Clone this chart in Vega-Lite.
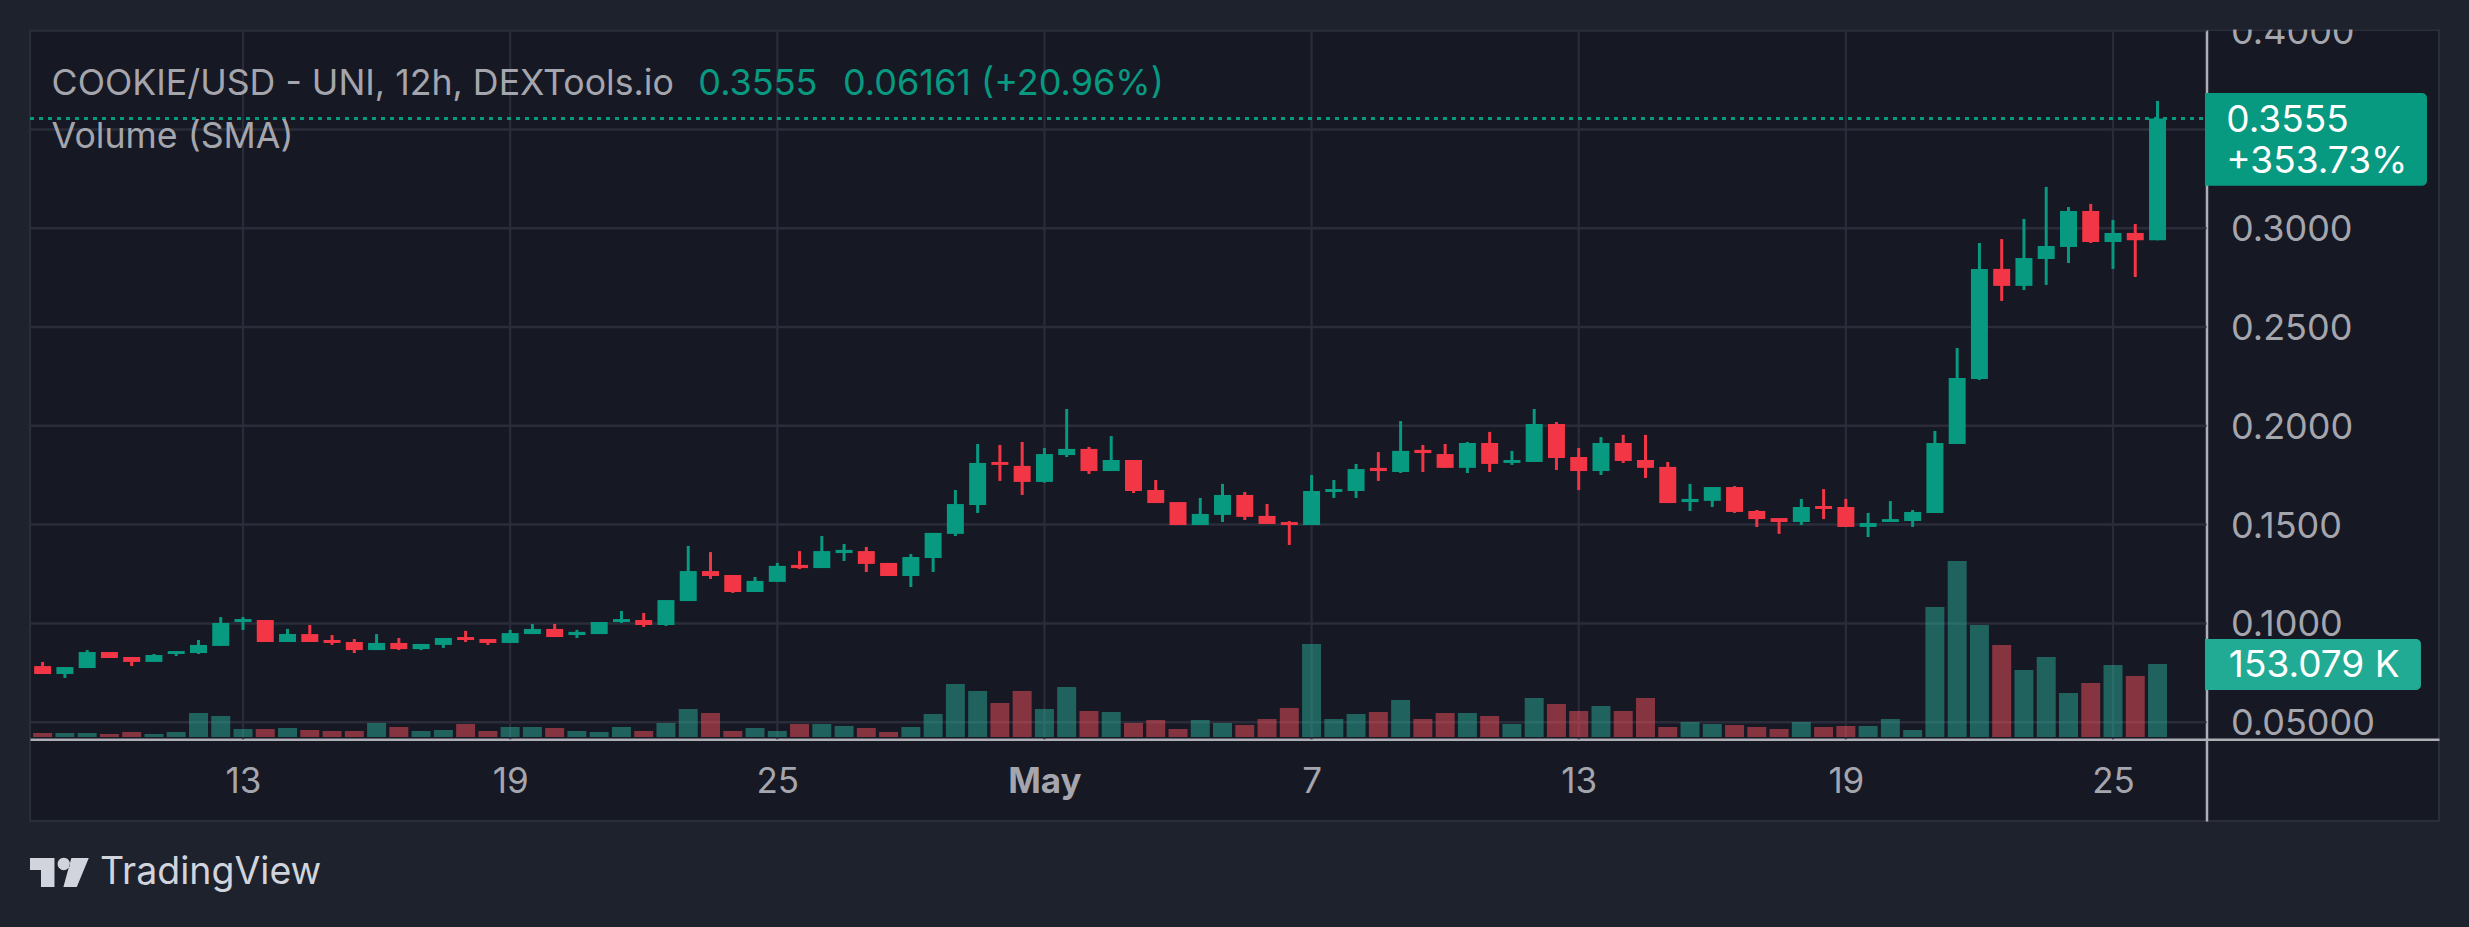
{"$schema":"https://vega.github.io/schema/vega-lite/v6.json","width":2409,"height":791,"autosize":{"type":"none"},"padding":{"left":30,"top":30,"right":30,"bottom":106},"background":"#1e222d","config":{"view":{"fill":"#161824","stroke":"#2a2d3a","strokeWidth":2},"font":"Inter"},"datasets":{"candles":[
{"t":"2024-04-08T12:00:00Z","o":0.0784,"h":0.0805,"l":0.0744,"c":0.0744,"v":8400,"d":"down"},
{"t":"2024-04-09T00:00:00Z","o":0.0744,"h":0.0779,"l":0.0724,"c":0.0779,"v":8400,"d":"up"},
{"t":"2024-04-09T12:00:00Z","o":0.0774,"h":0.0865,"l":0.0774,"c":0.0855,"v":8400,"d":"up"},
{"t":"2024-04-10T00:00:00Z","o":0.0855,"h":0.0855,"l":0.0825,"c":0.0825,"v":6300,"d":"down"},
{"t":"2024-04-10T12:00:00Z","o":0.083,"h":0.083,"l":0.0784,"c":0.0805,"v":10500,"d":"down"},
{"t":"2024-04-11T00:00:00Z","o":0.0805,"h":0.0845,"l":0.0805,"c":0.084,"v":6300,"d":"up"},
{"t":"2024-04-11T12:00:00Z","o":0.0845,"h":0.086,"l":0.0835,"c":0.086,"v":10500,"d":"up"},
{"t":"2024-04-12T00:00:00Z","o":0.085,"h":0.0916,"l":0.0845,"c":0.0891,"v":50300,"d":"up"},
{"t":"2024-04-12T12:00:00Z","o":0.0886,"h":0.1032,"l":0.0886,"c":0.1002,"v":44000,"d":"up"},
{"t":"2024-04-13T00:00:00Z","o":0.1007,"h":0.1032,"l":0.0967,"c":0.1022,"v":16800,"d":"up"},
{"t":"2024-04-13T12:00:00Z","o":0.1017,"h":0.1017,"l":0.0906,"c":0.0906,"v":16800,"d":"down"},
{"t":"2024-04-14T00:00:00Z","o":0.0906,"h":0.0972,"l":0.0906,"c":0.0946,"v":18900,"d":"up"},
{"t":"2024-04-14T12:00:00Z","o":0.0946,"h":0.0992,"l":0.0906,"c":0.0906,"v":14700,"d":"down"},
{"t":"2024-04-15T00:00:00Z","o":0.0916,"h":0.0941,"l":0.0891,"c":0.0901,"v":12600,"d":"down"},
{"t":"2024-04-15T12:00:00Z","o":0.0906,"h":0.0921,"l":0.085,"c":0.0865,"v":12600,"d":"down"},
{"t":"2024-04-16T00:00:00Z","o":0.0865,"h":0.0946,"l":0.0865,"c":0.0901,"v":29400,"d":"up"},
{"t":"2024-04-16T12:00:00Z","o":0.0901,"h":0.0926,"l":0.0865,"c":0.087,"v":21000,"d":"down"},
{"t":"2024-04-17T00:00:00Z","o":0.087,"h":0.0896,"l":0.0865,"c":0.0896,"v":12600,"d":"up"},
{"t":"2024-04-17T12:00:00Z","o":0.0891,"h":0.0926,"l":0.0876,"c":0.0926,"v":14700,"d":"up"},
{"t":"2024-04-18T00:00:00Z","o":0.0931,"h":0.0962,"l":0.0906,"c":0.0916,"v":27300,"d":"down"},
{"t":"2024-04-18T12:00:00Z","o":0.0921,"h":0.0921,"l":0.0891,"c":0.0901,"v":12600,"d":"down"},
{"t":"2024-04-19T00:00:00Z","o":0.0901,"h":0.0967,"l":0.0901,"c":0.0951,"v":21000,"d":"up"},
{"t":"2024-04-19T12:00:00Z","o":0.0946,"h":0.0997,"l":0.0946,"c":0.0972,"v":21000,"d":"up"},
{"t":"2024-04-20T00:00:00Z","o":0.0972,"h":0.0997,"l":0.0931,"c":0.0931,"v":18900,"d":"down"},
{"t":"2024-04-20T12:00:00Z","o":0.0941,"h":0.0967,"l":0.0926,"c":0.0957,"v":12600,"d":"up"},
{"t":"2024-04-21T00:00:00Z","o":0.0946,"h":0.1007,"l":0.0946,"c":0.1007,"v":10500,"d":"up"},
{"t":"2024-04-21T12:00:00Z","o":0.1007,"h":0.1063,"l":0.1002,"c":0.1022,"v":21000,"d":"up"},
{"t":"2024-04-22T00:00:00Z","o":0.1017,"h":0.1053,"l":0.0982,"c":0.0992,"v":12600,"d":"down"},
{"t":"2024-04-22T12:00:00Z","o":0.0992,"h":0.1118,"l":0.0987,"c":0.1118,"v":29400,"d":"up"},
{"t":"2024-04-23T00:00:00Z","o":0.1113,"h":0.1392,"l":0.1113,"c":0.1265,"v":58700,"d":"up"},
{"t":"2024-04-23T12:00:00Z","o":0.1265,"h":0.1361,"l":0.1225,"c":0.124,"v":50300,"d":"down"},
{"t":"2024-04-24T00:00:00Z","o":0.1245,"h":0.1245,"l":0.1154,"c":0.1159,"v":12600,"d":"down"},
{"t":"2024-04-24T12:00:00Z","o":0.1159,"h":0.1235,"l":0.1159,"c":0.1215,"v":18900,"d":"up"},
{"t":"2024-04-25T00:00:00Z","o":0.121,"h":0.1306,"l":0.121,"c":0.1291,"v":12600,"d":"up"},
{"t":"2024-04-25T12:00:00Z","o":0.1296,"h":0.1366,"l":0.1275,"c":0.128,"v":27300,"d":"down"},
{"t":"2024-04-26T00:00:00Z","o":0.128,"h":0.1442,"l":0.128,"c":0.1366,"v":27300,"d":"up"},
{"t":"2024-04-26T12:00:00Z","o":0.1356,"h":0.1402,"l":0.1316,"c":0.1372,"v":23100,"d":"up"},
{"t":"2024-04-27T00:00:00Z","o":0.1366,"h":0.1387,"l":0.126,"c":0.1301,"v":18900,"d":"down"},
{"t":"2024-04-27T12:00:00Z","o":0.1306,"h":0.1306,"l":0.124,"c":0.124,"v":10500,"d":"down"},
{"t":"2024-04-28T00:00:00Z","o":0.124,"h":0.1351,"l":0.1184,"c":0.1336,"v":21000,"d":"up"},
{"t":"2024-04-28T12:00:00Z","o":0.1331,"h":0.1458,"l":0.126,"c":0.1458,"v":48200,"d":"up"},
{"t":"2024-04-29T00:00:00Z","o":0.1453,"h":0.1675,"l":0.1442,"c":0.1604,"v":111100,"d":"up"},
{"t":"2024-04-29T12:00:00Z","o":0.1599,"h":0.1908,"l":0.1559,"c":0.1812,"v":96500,"d":"up"},
{"t":"2024-04-30T00:00:00Z","o":0.1817,"h":0.1903,"l":0.1721,"c":0.1802,"v":71300,"d":"down"},
{"t":"2024-04-30T12:00:00Z","o":0.1797,"h":0.1918,"l":0.165,"c":0.1716,"v":96500,"d":"down"},
{"t":"2024-05-01T00:00:00Z","o":0.1716,"h":0.1888,"l":0.1712,"c":0.1857,"v":58700,"d":"up"},
{"t":"2024-05-01T12:00:00Z","o":0.1852,"h":0.2085,"l":0.1842,"c":0.1883,"v":104900,"d":"up"},
{"t":"2024-05-02T00:00:00Z","o":0.1883,"h":0.1893,"l":0.1756,"c":0.1771,"v":54500,"d":"down"},
{"t":"2024-05-02T12:00:00Z","o":0.1771,"h":0.1948,"l":0.1771,"c":0.1827,"v":52400,"d":"up"},
{"t":"2024-05-03T00:00:00Z","o":0.1827,"h":0.1827,"l":0.166,"c":0.167,"v":29400,"d":"down"},
{"t":"2024-05-03T12:00:00Z","o":0.1675,"h":0.1726,"l":0.1609,"c":0.1609,"v":35600,"d":"down"},
{"t":"2024-05-04T00:00:00Z","o":0.1614,"h":0.1614,"l":0.1498,"c":0.1498,"v":16800,"d":"down"},
{"t":"2024-05-04T12:00:00Z","o":0.1498,"h":0.1635,"l":0.1498,"c":0.1554,"v":35600,"d":"up"},
{"t":"2024-05-05T00:00:00Z","o":0.1549,"h":0.1706,"l":0.1513,"c":0.165,"v":29400,"d":"up"},
{"t":"2024-05-05T12:00:00Z","o":0.165,"h":0.1665,"l":0.1523,"c":0.1539,"v":25200,"d":"down"},
{"t":"2024-05-06T00:00:00Z","o":0.1544,"h":0.1604,"l":0.1503,"c":0.1503,"v":37700,"d":"down"},
{"t":"2024-05-06T12:00:00Z","o":0.1513,"h":0.1518,"l":0.1397,"c":0.1498,"v":60800,"d":"down"},
{"t":"2024-05-07T00:00:00Z","o":0.1498,"h":0.1751,"l":0.1498,"c":0.167,"v":195000,"d":"up"},
{"t":"2024-05-07T12:00:00Z","o":0.1665,"h":0.1726,"l":0.1635,"c":0.168,"v":37700,"d":"up"},
{"t":"2024-05-08T00:00:00Z","o":0.167,"h":0.1807,"l":0.1635,"c":0.1781,"v":48200,"d":"up"},
{"t":"2024-05-08T12:00:00Z","o":0.1787,"h":0.1867,"l":0.1721,"c":0.1771,"v":52400,"d":"down"},
{"t":"2024-05-09T00:00:00Z","o":0.1766,"h":0.2024,"l":0.1761,"c":0.1873,"v":77600,"d":"up"},
{"t":"2024-05-09T12:00:00Z","o":0.1878,"h":0.1903,"l":0.1766,"c":0.1862,"v":37700,"d":"down"},
{"t":"2024-05-10T00:00:00Z","o":0.1857,"h":0.1908,"l":0.1787,"c":0.1787,"v":50300,"d":"down"},
{"t":"2024-05-10T12:00:00Z","o":0.1787,"h":0.1918,"l":0.1761,"c":0.1913,"v":50300,"d":"up"},
{"t":"2024-05-11T00:00:00Z","o":0.1913,"h":0.1969,"l":0.1766,"c":0.1807,"v":44000,"d":"down"},
{"t":"2024-05-11T12:00:00Z","o":0.1812,"h":0.1873,"l":0.1802,"c":0.1827,"v":27300,"d":"up"},
{"t":"2024-05-12T00:00:00Z","o":0.1817,"h":0.2085,"l":0.1817,"c":0.2009,"v":81800,"d":"up"},
{"t":"2024-05-12T12:00:00Z","o":0.2009,"h":0.2019,"l":0.1776,"c":0.1837,"v":69200,"d":"down"},
{"t":"2024-05-13T00:00:00Z","o":0.1842,"h":0.1888,"l":0.1675,"c":0.1771,"v":54500,"d":"down"},
{"t":"2024-05-13T12:00:00Z","o":0.1771,"h":0.1943,"l":0.1751,"c":0.1913,"v":65000,"d":"up"},
{"t":"2024-05-14T00:00:00Z","o":0.1913,"h":0.1954,"l":0.1812,"c":0.1822,"v":54500,"d":"down"},
{"t":"2024-05-14T12:00:00Z","o":0.1827,"h":0.1954,"l":0.1736,"c":0.1787,"v":81800,"d":"down"},
{"t":"2024-05-15T00:00:00Z","o":0.1792,"h":0.1817,"l":0.1609,"c":0.1609,"v":21000,"d":"down"},
{"t":"2024-05-15T12:00:00Z","o":0.1614,"h":0.1706,"l":0.1569,"c":0.163,"v":31500,"d":"up"},
{"t":"2024-05-16T00:00:00Z","o":0.162,"h":0.169,"l":0.1589,"c":0.169,"v":27300,"d":"up"},
{"t":"2024-05-16T12:00:00Z","o":0.169,"h":0.1695,"l":0.1559,"c":0.1564,"v":25200,"d":"down"},
{"t":"2024-05-17T00:00:00Z","o":0.1569,"h":0.1574,"l":0.1488,"c":0.1528,"v":21000,"d":"down"},
{"t":"2024-05-17T12:00:00Z","o":0.1533,"h":0.1533,"l":0.1453,"c":0.1513,"v":16800,"d":"down"},
{"t":"2024-05-18T00:00:00Z","o":0.1513,"h":0.163,"l":0.1498,"c":0.1589,"v":31500,"d":"up"},
{"t":"2024-05-18T12:00:00Z","o":0.1594,"h":0.168,"l":0.1528,"c":0.1579,"v":21000,"d":"down"},
{"t":"2024-05-19T00:00:00Z","o":0.1589,"h":0.163,"l":0.1488,"c":0.1488,"v":23100,"d":"down"},
{"t":"2024-05-19T12:00:00Z","o":0.1488,"h":0.1559,"l":0.1437,"c":0.1508,"v":23100,"d":"up"},
{"t":"2024-05-20T00:00:00Z","o":0.1513,"h":0.1619,"l":0.1513,"c":0.1528,"v":37700,"d":"up"},
{"t":"2024-05-20T12:00:00Z","o":0.1518,"h":0.1574,"l":0.1488,"c":0.1564,"v":14700,"d":"up"},
{"t":"2024-05-21T00:00:00Z","o":0.1559,"h":0.1974,"l":0.1559,"c":0.1913,"v":272600,"d":"up"},
{"t":"2024-05-21T12:00:00Z","o":0.1908,"h":0.2394,"l":0.1908,"c":0.2242,"v":369100,"d":"up"},
{"t":"2024-05-22T00:00:00Z","o":0.2237,"h":0.2925,"l":0.2232,"c":0.2794,"v":234900,"d":"up"},
{"t":"2024-05-22T12:00:00Z","o":0.2794,"h":0.2945,"l":0.2632,"c":0.2708,"v":192900,"d":"down"},
{"t":"2024-05-23T00:00:00Z","o":0.2708,"h":0.3047,"l":0.2687,"c":0.2849,"v":140500,"d":"up"},
{"t":"2024-05-23T12:00:00Z","o":0.2844,"h":0.3209,"l":0.2713,"c":0.291,"v":167800,"d":"up"},
{"t":"2024-05-24T00:00:00Z","o":0.2905,"h":0.3107,"l":0.2824,"c":0.3087,"v":92300,"d":"up"},
{"t":"2024-05-24T12:00:00Z","o":0.3087,"h":0.3123,"l":0.2925,"c":0.293,"v":113200,"d":"down"},
{"t":"2024-05-25T00:00:00Z","o":0.293,"h":0.3042,"l":0.2794,"c":0.2976,"v":151000,"d":"up"},
{"t":"2024-05-25T12:00:00Z","o":0.2976,"h":0.3021,"l":0.2753,"c":0.2939,"v":127900,"d":"down"},
{"t":"2024-05-26T00:00:00Z","o":0.2939,"h":0.3644,"l":0.2939,"c":0.3555,"v":153079,"d":"up"}
],
"hgrid":[{"t":1712553062000,"t2":1716776640000,"p":0.05},{"t":1712553062000,"t2":1716776640000,"p":0.1},{"t":1712553062000,"t2":1716776640000,"p":0.15},{"t":1712553062000,"t2":1716776640000,"p":0.2},{"t":1712553062000,"t2":1716776640000,"p":0.25},{"t":1712553062000,"t2":1716776640000,"p":0.3},{"t":1712553062000,"t2":1716776640000,"p":0.35},{"t":1712553062000,"t2":1716776640000,"p":0.4}],
"vgrid":[{"t":"2024-04-13T00:00:00Z","p":0.04135,"p2":0.4003},{"t":"2024-04-19T00:00:00Z","p":0.04135,"p2":0.4003},{"t":"2024-04-25T00:00:00Z","p":0.04135,"p2":0.4003},{"t":"2024-05-01T00:00:00Z","p":0.04135,"p2":0.4003},{"t":"2024-05-07T00:00:00Z","p":0.04135,"p2":0.4003},{"t":"2024-05-13T00:00:00Z","p":0.04135,"p2":0.4003},{"t":"2024-05-19T00:00:00Z","p":0.04135,"p2":0.4003},{"t":"2024-05-25T00:00:00Z","p":0.04135,"p2":0.4003}],
"last":[{"t":1712553062000,"t2":1716773702000,"p":0.3555}],
"cover":[{"t":1712553062000,"t2":1717227820000,"p":0.4005,"p2":0.4155}],
"pills":[{"t":1716773702000,"t2":1717204493000,"p":0.3684,"p2":0.3215,"kind":"price"},{"t":1716773702000,"t2":1717192829000,"p":0.09211,"p2":0.0663,"kind":"volume"}],
"pilltext":[{"t":1716815000000,"p":0.3543,"label":"0.3555"},{"t":1716815000000,"p":0.3333,"label":"+353.73%"},{"t":1716820000000,"p":0.0782,"label":"153.079 K"}],
"greytext":[{"t":1712595000000,"p":0.3728,"label":"COOKIE/USD - UNI, 12h, DEXTools.io"},{"t":1712595000000,"p":0.3463,"label":"Volume (SMA)"}],
"greentext":[{"t":1713850000000,"p":0.3728,"label":"0.3555"},{"t":1714130726000,"p":0.3728,"label":"0.06161 (+20.96%)"}],
"brand":[{"t":1712688883000,"p":-0.0263,"label":"TradingView"}],
"logo":[{"t":1712610086000,"p":-0.02606}]},
"layer":[
{"data":{"name":"vgrid"},"mark":{"type":"rule","stroke":"#2a2c3a","strokeWidth":2.2},"encoding":{"y":{"field":"p","type":"quantitative","scale":{"domain":[0,0.4003],"nice":false,"zero":false},"axis":{"orient":"right","offset":-232.5,"values":[0.05,0.1,0.15,0.2,0.25,0.3,0.4],"labelExpr":"datum.value < 0.06 ? '0.05000' : format(datum.value,'.4f')","title":null,"grid":false,"ticks":false,"domain":true,"domainColor":"#aeaeb6","domainWidth":2.5,"labelColor":"#a5a6ad","labelFont":"Inter","labelFontSize":36,"labelPadding":24,"labelOffset":1.5,"labelOverlap":false,"labelFlush":false,"labelBound":false}},"y2":{"field":"p2"}}},
{"data":{"name":"hgrid"},"mark":{"type":"rule","stroke":"#2a2c3a","strokeWidth":2.5},"encoding":{"x2":{"field":"t2"},"y":{"field":"p","type":"quantitative","scale":{"domain":[0,0.4003],"nice":false,"zero":false},"axis":null}}},
{"data":{"name":"candles"},"mark":{"type":"bar","size":19,"opacity":0.5},"encoding":{"y":{"field":"v","type":"quantitative","scale":{"domain":[-176148,1482579],"nice":false,"zero":false},"axis":null},"y2":{"datum":0},"fill":{"field":"d","type":"nominal","scale":{"domain":["up","down"],"range":["#2aac98","#f5505c"]},"legend":null}}},
{"data":{"name":"candles"},"mark":{"type":"rule","strokeWidth":3},"encoding":{"y":{"field":"l","type":"quantitative","scale":{"domain":[0,0.4003],"nice":false,"zero":false},"axis":null},"y2":{"field":"h"},"color":{"field":"d","type":"nominal","scale":{"domain":["up","down"],"range":["#089981","#f23645"]},"legend":null}}},
{"data":{"name":"candles"},"mark":{"type":"bar","size":17},"encoding":{"y":{"field":"o","type":"quantitative","scale":{"domain":[0,0.4003],"nice":false,"zero":false},"axis":null},"y2":{"field":"c"},"color":{"field":"d","type":"nominal","scale":{"domain":["up","down"],"range":["#089981","#f23645"]},"legend":null}}},
{"data":{"name":"last"},"mark":{"type":"rule","stroke":"#089981","strokeWidth":3,"strokeDash":[4,5]},"encoding":{"x2":{"field":"t2"},"y":{"field":"p","type":"quantitative","scale":{"domain":[0,0.4003],"nice":false,"zero":false},"axis":null}}},
{"data":{"name":"cover"},"mark":{"type":"rect","fill":"#1e222d","clip":false},"encoding":{"x2":{"field":"t2"},"y":{"field":"p","type":"quantitative","scale":{"domain":[0,0.4003],"nice":false,"zero":false},"axis":null},"y2":{"field":"p2"}}},
{"data":{"name":"pills"},"mark":{"type":"rect","cornerRadiusTopRight":5,"cornerRadiusBottomRight":5},"encoding":{"x2":{"field":"t2"},"y":{"field":"p","type":"quantitative","scale":{"domain":[0,0.4003],"nice":false,"zero":false},"axis":null},"y2":{"field":"p2"},"fill":{"field":"kind","type":"nominal","scale":{"domain":["price","volume"],"range":["#089981","#22ab94"]},"legend":null}}},
{"data":{"name":"pilltext"},"mark":{"type":"text","align":"left","baseline":"middle","font":"Inter","fontSize":37,"fill":"#ffffff"},"encoding":{"y":{"field":"p","type":"quantitative","scale":{"domain":[0,0.4003],"nice":false,"zero":false},"axis":null},"text":{"field":"label"}}},
{"data":{"name":"greytext"},"mark":{"type":"text","align":"left","baseline":"middle","font":"Inter","fontSize":35.7,"fill":"#a5a6ad"},"encoding":{"y":{"field":"p","type":"quantitative","scale":{"domain":[0,0.4003],"nice":false,"zero":false},"axis":null},"text":{"field":"label"}}},
{"data":{"name":"greentext"},"mark":{"type":"text","align":"left","baseline":"middle","font":"Inter","fontSize":36,"fill":"#089981"},"encoding":{"y":{"field":"p","type":"quantitative","scale":{"domain":[0,0.4003],"nice":false,"zero":false},"axis":null},"text":{"field":"label"}}},
{"data":{"name":"brand"},"mark":{"type":"text","align":"left","baseline":"middle","font":"Inter","fontSize":37.5,"fill":"#d1d4dc"},"encoding":{"y":{"field":"p","type":"quantitative","scale":{"domain":[0,0.4003],"nice":false,"zero":false},"axis":null},"text":{"field":"label"}}},
{"data":{"name":"logo"},"mark":{"type":"point","filled":true,"opacity":1,"fill":"#d1d4dc","stroke":null,"size":3457,"clip":false,"shape":"M-1 -0.493H-0.167V0.493H-0.626V-0.085H-1ZM-0.06 -0.289A0.21 0.21 0 1 0 0.36 -0.289A0.21 0.21 0 1 0 -0.06 -0.289ZM0.408 -0.493H1L0.592 0.493H0.136Z"},"encoding":{"y":{"field":"p","type":"quantitative","scale":{"domain":[0,0.4003],"nice":false,"zero":false},"axis":null}}}
],
"encoding":{"x":{"field":"t","type":"temporal","scale":{"type":"utc","domain":[1712553062000,1717227820000],"nice":false,"padding":0},"axis":{"orient":"bottom","offset":-81.7,"values":[1712966400000,1713484800000,1714003200000,1714521600000,1715040000000,1715558400000,1716076800000,1716595200000],"labelExpr":"utcdate(datum.value)==1 ? 'May' : utcFormat(datum.value,'%-d')","labelFontWeight":{"condition":{"test":"utcdate(datum.value)==1","value":"bold"},"value":"normal"},"title":null,"grid":false,"ticks":false,"domain":true,"domainColor":"#aeaeb6","domainWidth":2.5,"labelColor":"#a5a6ad","labelFont":"Inter","labelFontSize":35,"labelBaseline":"middle","labelPadding":42,"labelFlush":false,"labelOverlap":false,"labelBound":false}}},
"resolve":{"scale":{"y":"independent","color":"shared","fill":"independent"},"axis":{"y":"independent"}}}
